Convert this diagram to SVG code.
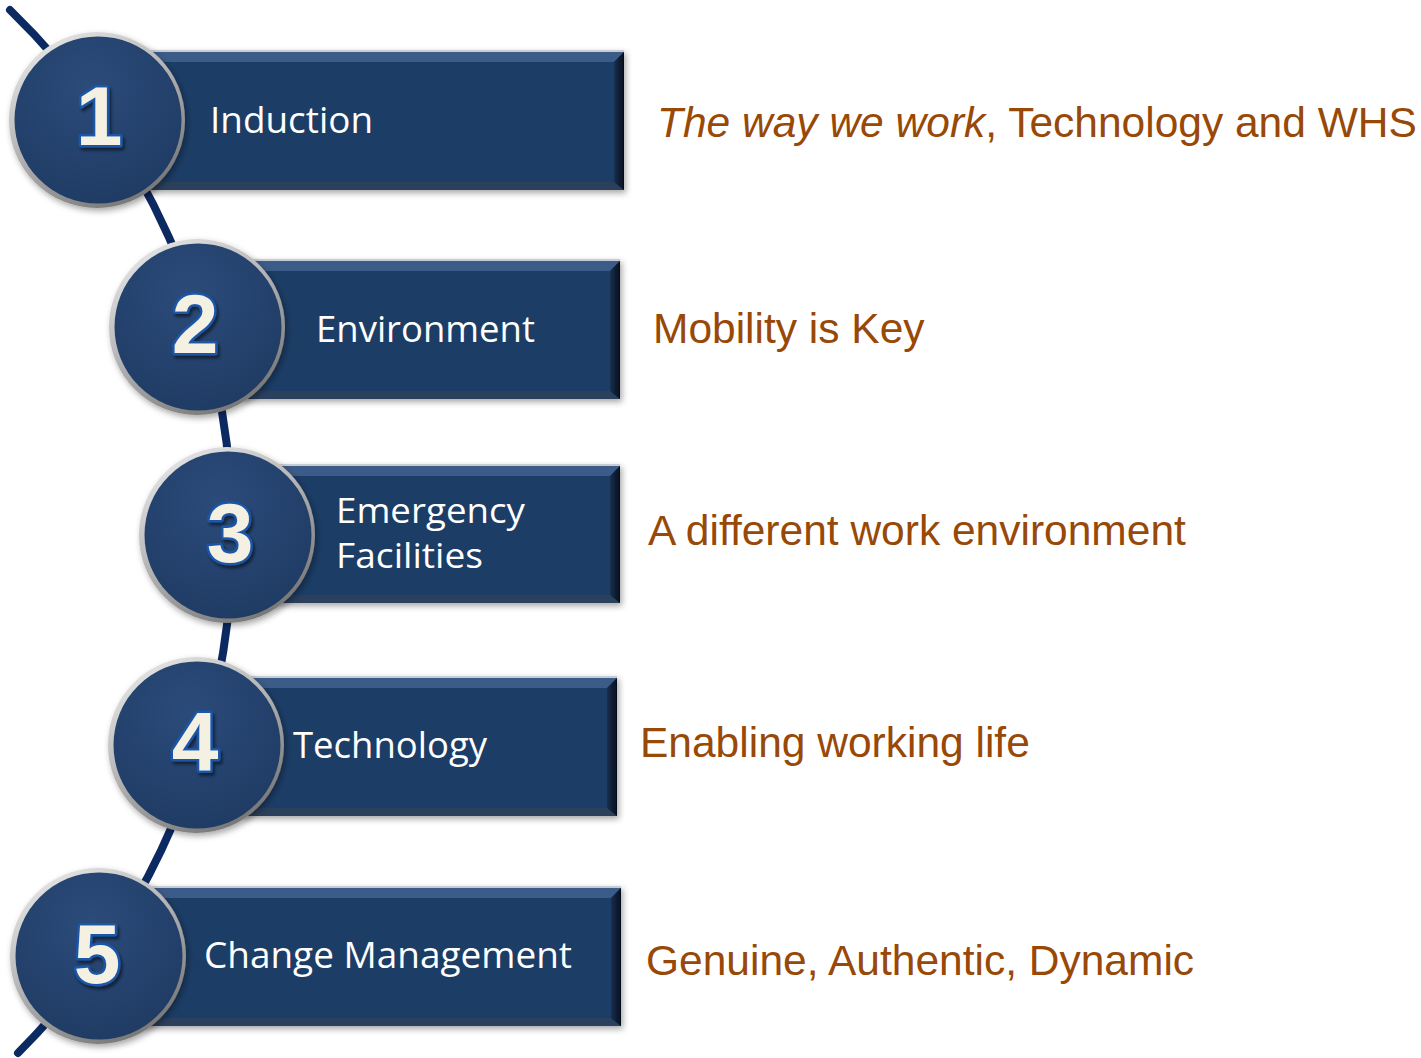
<svg xmlns="http://www.w3.org/2000/svg" width="1421" height="1058" viewBox="0 0 1421 1058">
<defs>
<style>
.lbl{font-family:"Open Sans","Noto Sans",sans-serif;font-size:37px;fill:#ffffff}
.lbl2{font-family:"Open Sans","Noto Sans",sans-serif;font-size:34px;fill:#ffffff}
.num{font-family:"Liberation Sans",Arial,sans-serif;font-size:84px;font-weight:bold;fill:#f4f1e3;stroke:#1b56a8;stroke-width:5px;stroke-linejoin:round;paint-order:stroke;text-anchor:middle}
.desc{font-family:"Liberation Sans",Arial,sans-serif;font-size:42.5px;fill:#984807}
.main{fill:#1f3d66}
.top{fill:#3b5c88}
.bot{fill:#2a3f5c}
.right{fill:url(#rg)}
.edge{fill:#c8ccd2}
</style>
<linearGradient id="ring" x1="0" y1="0" x2="0.6" y2="1">
<stop offset="0" stop-color="#f2f2f2"/>
<stop offset="0.5" stop-color="#b8b8b8"/>
<stop offset="1" stop-color="#7a7a7a"/>
</linearGradient>
<radialGradient id="disc" cx="0.45" cy="0.3" r="0.8">
<stop offset="0" stop-color="#2b4b7a"/>
<stop offset="1" stop-color="#1e3a62"/>
</radialGradient>
<linearGradient id="rg" x1="0" y1="0" x2="1" y2="0">
<stop offset="0" stop-color="#1a3150"/>
<stop offset="1" stop-color="#050d1c"/>
</linearGradient>
<filter id="sh" x="-20%" y="-20%" width="140%" height="140%">
<feDropShadow dx="2" dy="3" stdDeviation="3" flood-color="#000" flood-opacity="0.35"/>
</filter>
<filter id="nsh" x="-20%" y="-20%" width="140%" height="140%">
<feDropShadow dx="2" dy="3" stdDeviation="1.5" flood-color="#000" flood-opacity="0.5"/>
</filter>
</defs>
<rect width="1421" height="1058" fill="#ffffff"/>
<g id="connectors">
<path d="M 10 10 A 732 732 0 0 1 18 1053" fill="none" stroke="#0c2a62" stroke-width="8" stroke-linecap="round"/>
</g>
<g id="node1">
<g filter="url(#sh)">
<rect class="edge" x="130" y="50" width="494" height="3"/>
<rect class="main" x="130" y="52" width="494" height="138"/>
<polygon class="top" points="130,52 624,52 614,62 130,62"/>
<polygon class="bot" points="130,182 614,182 624,190 130,190"/>
<polygon class="right" points="614,62 624,52 624,190 614,182"/>
</g>
<circle cx="97" cy="120" r="88" fill="url(#ring)" filter="url(#sh)"/>
<circle cx="98" cy="120" r="83.5" fill="url(#disc)"/>
<text class="num" x="99" y="145" filter="url(#nsh)">1</text>
<text class="lbl" x="210" y="133" textLength="163" lengthAdjust="spacingAndGlyphs">Induction</text>
</g>
<g id="node2">
<g filter="url(#sh)">
<rect class="edge" x="240" y="259" width="380" height="3"/>
<rect class="main" x="240" y="261" width="380" height="138"/>
<polygon class="top" points="240,261 620,261 610,271 240,271"/>
<polygon class="bot" points="240,391 610,391 620,399 240,399"/>
<polygon class="right" points="610,271 620,261 620,399 610,391"/>
</g>
<circle cx="197" cy="327" r="88" fill="url(#ring)" filter="url(#sh)"/>
<circle cx="198" cy="327" r="83.5" fill="url(#disc)"/>
<text class="num" x="195" y="353" filter="url(#nsh)">2</text>
<text class="lbl" x="316" y="342" textLength="219" lengthAdjust="spacingAndGlyphs">Environment</text>
</g>
<g id="node3">
<g filter="url(#sh)">
<rect class="edge" x="270" y="464" width="350" height="3"/>
<rect class="main" x="270" y="466" width="350" height="137"/>
<polygon class="top" points="270,466 620,466 610,476 270,476"/>
<polygon class="bot" points="270,595 610,595 620,603 270,603"/>
<polygon class="right" points="610,476 620,466 620,603 610,595"/>
</g>
<circle cx="227" cy="535" r="88" fill="url(#ring)" filter="url(#sh)"/>
<circle cx="228" cy="535" r="83.5" fill="url(#disc)"/>
<text class="num" x="230" y="562" filter="url(#nsh)">3</text>
<text class="lbl2" x="336" y="523" textLength="189" lengthAdjust="spacingAndGlyphs">Emergency</text>
<text class="lbl2" x="336" y="568" textLength="147" lengthAdjust="spacingAndGlyphs">Facilities</text>
</g>
<g id="node4">
<g filter="url(#sh)">
<rect class="edge" x="240" y="676" width="377" height="3"/>
<rect class="main" x="240" y="678" width="377" height="138"/>
<polygon class="top" points="240,678 617,678 607,688 240,688"/>
<polygon class="bot" points="240,808 607,808 617,816 240,816"/>
<polygon class="right" points="607,688 617,678 617,816 607,808"/>
</g>
<circle cx="196" cy="745" r="88" fill="url(#ring)" filter="url(#sh)"/>
<circle cx="197" cy="745" r="83.5" fill="url(#disc)"/>
<text class="num" x="195" y="771" filter="url(#nsh)">4</text>
<text class="lbl" x="293" y="758" textLength="194" lengthAdjust="spacingAndGlyphs">Technology</text>
</g>
<g id="node5">
<g filter="url(#sh)">
<rect class="edge" x="130" y="886" width="491" height="3"/>
<rect class="main" x="130" y="888" width="491" height="138"/>
<polygon class="top" points="130,888 621,888 611,898 130,898"/>
<polygon class="bot" points="130,1018 611,1018 621,1026 130,1026"/>
<polygon class="right" points="611,898 621,888 621,1026 611,1018"/>
</g>
<circle cx="98" cy="956" r="88" fill="url(#ring)" filter="url(#sh)"/>
<circle cx="99" cy="956" r="83.5" fill="url(#disc)"/>
<text class="num" x="97" y="983" filter="url(#nsh)">5</text>
<text class="lbl" x="204" y="968" textLength="368" lengthAdjust="spacingAndGlyphs">Change Management</text>
</g>
<g id="descriptions">
<text class="desc" x="657" y="137"><tspan font-style="italic">The way we work</tspan>, Technology and WHS</text>
<text class="desc" x="653" y="343">Mobility is Key</text>
<text class="desc" x="648" y="545">A different work environment</text>
<text class="desc" x="640" y="757">Enabling working life</text>
<text class="desc" x="646" y="975">Genuine, Authentic, Dynamic</text>
</g>
</svg>
